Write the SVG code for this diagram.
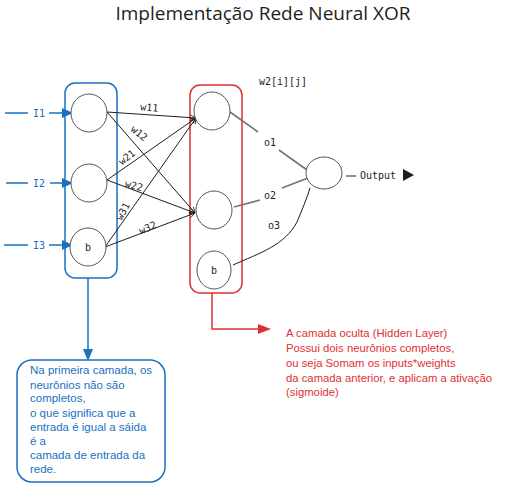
<svg xmlns="http://www.w3.org/2000/svg" width="526" height="494" viewBox="0 0 526 494">
<defs>
<style>
.node{fill:#ffffff;stroke:#555555;stroke-width:1}
.edge{stroke:#1e1e1e;stroke-width:1;fill:none}
.grey{stroke:#757575;stroke-width:1.6;fill:none}
.blue{stroke:#1971c2;stroke-width:1.5;fill:none}
.red{stroke:#e03131;stroke-width:1.5;fill:none}
.mono{font-family:"DejaVu Sans Mono","Liberation Mono",monospace;font-size:10px;fill:#1e1e1e}
.hand{font-family:"Liberation Sans","DejaVu Sans",sans-serif;font-size:11.3px}
</style>
<marker id="ah" viewBox="0 0 10 10" refX="9" refY="5" markerWidth="7" markerHeight="7" orient="auto" markerUnits="userSpaceOnUse">
<path d="M1,1 L9,5 L1,9" fill="none" stroke="#1e1e1e" stroke-width="1.2"/>
</marker>
</defs>
<rect width="526" height="494" fill="#ffffff"/>
<text x="263" y="20" text-anchor="middle" font-family="'Open Sans',Lato,sans-serif" font-size="19" fill="#1e1e1e">Implementação Rede Neural XOR</text>

<g id="input-layer">
<rect x="65" y="83" width="52" height="195" rx="10" class="blue"/>
</g>
<g id="hidden-layer">
<rect x="190" y="85" width="52" height="208" rx="10" class="red"/>
</g>

<g id="connectors">
<g class="edge">
<line x1="107" y1="112" x2="196" y2="118" marker-end="url(#ah)"/>
<line x1="107" y1="112" x2="195" y2="213" marker-end="url(#ah)"/>
<line x1="107" y1="180" x2="196" y2="118" marker-end="url(#ah)"/>
<line x1="107" y1="180" x2="195" y2="213" marker-end="url(#ah)"/>
<line x1="105" y1="247" x2="196" y2="118" marker-end="url(#ah)"/>
<line x1="105" y1="247" x2="195" y2="213" marker-end="url(#ah)"/>
</g>
<g class="grey">
<line x1="230" y1="112" x2="258" y2="132"/>
<line x1="279" y1="150" x2="307" y2="170"/>
<line x1="234" y1="207" x2="260" y2="200"/>
<line x1="282" y1="188" x2="308" y2="178"/>
</g>
<path d="M233,265 C260,253 285,245 297,222 C302,210 307,198 310,188" class="edge"/>
<line x1="346" y1="176" x2="356" y2="176" stroke="#1e1e1e" stroke-width="1"/>
<polygon points="403,169 414,175 403,181" fill="#1e1e1e"/>
<g class="blue">
<line x1="5" y1="113" x2="28" y2="113"/>
<line x1="49" y1="113" x2="63" y2="113"/>
<line x1="6" y1="183" x2="28" y2="183"/>
<line x1="50" y1="183" x2="63" y2="183"/>
<line x1="4" y1="245" x2="28" y2="245"/>
<line x1="49" y1="245" x2="63" y2="245"/>
<line x1="88" y1="278" x2="88" y2="350"/>
</g>
<g fill="#1971c2">
<polygon points="62,108 73,113 62,118"/>
<polygon points="62,178 73,183 62,188"/>
<polygon points="62,240 73,245 62,250"/>
<polygon points="83,349 88,361 93,349"/>
</g>
<polyline points="212,293 212,329 259,329" class="red"/>
<polygon points="258,324 271,329 258,334" fill="#e03131"/>
</g>

<g id="labels">
<text x="33" y="117" class="mono" style="fill:#1971c2">I1</text>
<text x="33" y="187" class="mono" style="fill:#1971c2">I2</text>
<text x="33" y="249" class="mono" style="fill:#1971c2">I3</text>
<text class="mono" transform="translate(149,111) rotate(5)" text-anchor="middle">w11</text>
<text class="mono" transform="translate(137,136) rotate(38)" text-anchor="middle" font-size="9">w12</text>
<text class="mono" transform="translate(129,160) rotate(-38)" text-anchor="middle" font-size="9">w21</text>
<text class="mono" transform="translate(133,189) rotate(15)" text-anchor="middle" font-size="9">w22</text>
<text class="mono" transform="translate(126,213) rotate(-62)" text-anchor="middle" font-size="8">w31</text>
<text class="mono" transform="translate(149,231) rotate(-22)" text-anchor="middle" font-size="8">w32</text>
<text x="283" y="85" class="mono" text-anchor="middle">w2[i][j]</text>
<text x="270" y="146" class="mono" text-anchor="middle">o1</text>
<text x="270" y="199" class="mono" text-anchor="middle">o2</text>
<text x="274" y="229" class="mono" text-anchor="middle">o3</text>
<text x="360" y="179" class="mono" font-size="10.5">Output</text>
</g>

<g id="i1"><ellipse cx="89" cy="113" rx="18" ry="19" class="node"/></g>
<g id="i2"><ellipse cx="89" cy="183" rx="18" ry="19" class="node"/></g>
<g id="i3"><ellipse cx="88" cy="247" rx="18" ry="19" class="node"/><text x="88" y="251" class="mono" text-anchor="middle">b</text></g>
<g id="h1"><ellipse cx="212" cy="111" rx="18" ry="19" class="node"/></g>
<g id="h2"><ellipse cx="214" cy="210" rx="18" ry="19" class="node"/></g>
<g id="h3"><ellipse cx="214" cy="270" rx="17" ry="19" class="node"/><text x="214" y="274" class="mono" text-anchor="middle">b</text></g>
<g id="out"><ellipse cx="324" cy="173" rx="18" ry="16" class="node"/></g>

<g id="note-hidden" class="hand" fill="#e03131">
<text x="286" y="337">A camada oculta (Hidden Layer)</text>
<text x="286" y="352">Possui dois neurônios completos,</text>
<text x="286" y="367">ou seja Somam os inputs*weights</text>
<text x="286" y="382">da camada anterior, e aplicam a ativação</text>
<text x="286" y="396">(sigmoide)</text>
</g>

<g id="note-input">
<rect x="17" y="360" width="148" height="122" rx="15" class="blue"/>
<g class="hand" fill="#1971c2" style="font-size:11.5px">
<text x="30" y="374">Na primeira camada, os</text>
<text x="30" y="389">neurônios não são</text>
<text x="30" y="402">completos,</text>
<text x="30" y="417">o que significa que a</text>
<text x="30" y="431">entrada é igual a sáida</text>
<text x="30" y="445">é a</text>
<text x="30" y="459">camada de entrada da</text>
<text x="30" y="473">rede.</text>
</g>
</g>
</svg>
